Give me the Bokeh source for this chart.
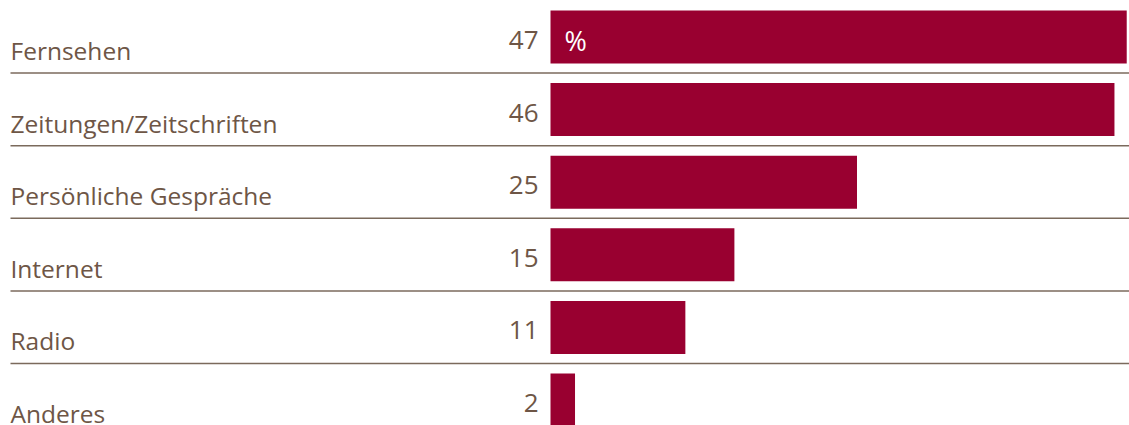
from bokeh.plotting import figure
from bokeh.models import Range1d, ColumnDataSource
from bokeh.core.properties import value
from bokeh.embed import file_html
from bokeh.resources import INLINE

categories = ["Fernsehen", "Zeitungen/Zeitschriften", "Persönliche Gespräche", "Internet", "Radio", "Anderes"]
values = [47, 46, 25, 15, 11, 2]
value_labels = ["47", "46", "25", "15", "11", "2"]
unit_label = "%"

W, H = 1129, 425
PX_PER_UNIT = 12.26
ORIGIN_PX = 550
ROW_PX = 72.6

def px_x(px):
    return (px - ORIGIN_PX) / PX_PER_UNIT

p = figure(width=W, height=H, output_backend="svg", toolbar_location=None,
           x_range=Range1d(px_x(0), px_x(W)), y_range=Range1d(H / ROW_PX, 0),
           min_border=0, outline_line_color=None)
p.axis.visible = False
p.grid.visible = False
p.background_fill_color = "white"
p.border_fill_color = "white"

n = len(categories)
idx = list(range(n))
bar_top = 10 / ROW_PX
bar_h = 53 / ROW_PX
src = ColumnDataSource(dict(
    y=[i + bar_top + bar_h / 2 for i in idx],
    right=values,
    cat=categories,
    lab=value_labels,
    ycat=[i + 50 / ROW_PX for i in idx],
    yval=[i + 39.5 / ROW_PX for i in idx],
))

# separators
p.segment(x0=[px_x(10)] * (n - 1), x1=[px_x(W + 5)] * (n - 1),
          y0=[i + 1 for i in range(n - 1)], y1=[i + 1 for i in range(n - 1)],
          line_color="#7b6a5c", line_width=1.5)

p.hbar(y="y", left=0, right="right", height=bar_h, source=src,
       fill_color="#990030", line_color=None)

text_color = "#6e5646"
p.text(x=px_x(10), y="ycat", text="cat", source=src, text_font=value("Open Sans"),
       text_font_size="24.5px", text_color=text_color, text_baseline="alphabetic",
       text_align="left")
p.text(x=px_x(538), y="yval", text="lab", source=src, text_font=value("Open Sans"),
       text_font_size="26px", text_color=text_color, text_baseline="alphabetic",
       text_align="right")
p.text(x=[px_x(564)], y=[39.5 / ROW_PX], text=[unit_label], text_font=value("Open Sans"),
       text_font_size="27px", text_color="white", text_baseline="alphabetic",
       text_align="left")

open("out.html", "w").write(file_html(p, INLINE))
